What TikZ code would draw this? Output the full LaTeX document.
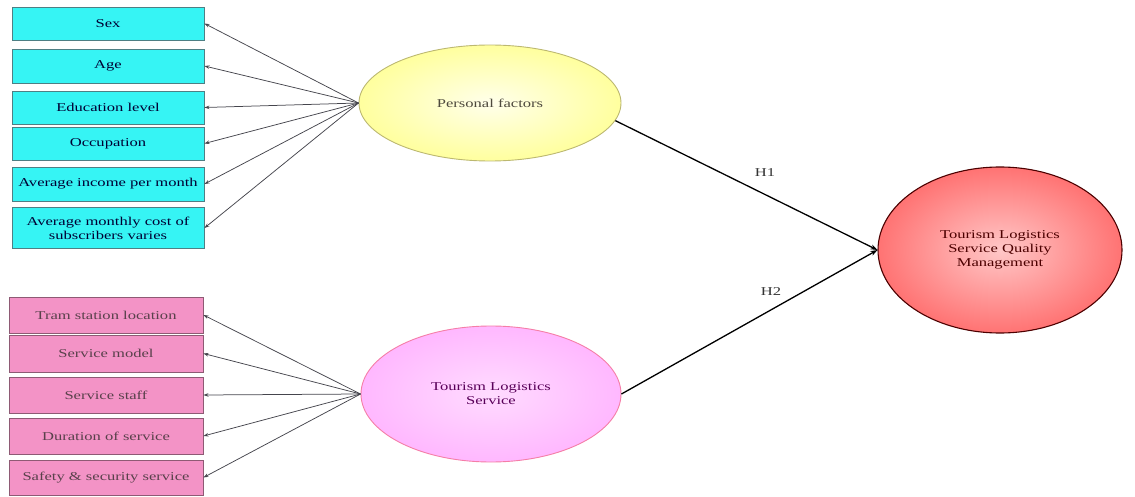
\documentclass[tikz,border=0pt]{standalone}
\usepackage{fontspec}
\setmainfont{Liberation Serif}[FakeStretch=1.38]
\usetikzlibrary{shapes.geometric,arrows.meta}
\definecolor{cyanfill}{HTML}{36F4F4}
\definecolor{cyanedge}{HTML}{4E7F84}
\definecolor{pinkfill}{HTML}{F393C6}
\definecolor{pinkedge}{HTML}{8E5A74}
\definecolor{linkgray}{HTML}{45454D}
\tikzset{
  factor/.style={draw=cyanedge, fill=cyanfill, line width=0.9pt, rectangle,
    minimum width=192pt, inner sep=1pt, align=center, text=black!80!blue,
    font=\fontsize{12}{14}\selectfont},
  servbox/.style={draw=pinkedge, fill=pinkfill, line width=0.9pt, rectangle,
    minimum width=194pt, inner sep=1pt, align=center, text=black!75!magenta,
    font=\fontsize{12}{14}\selectfont},
  latent/.style={ellipse, inner sep=0pt, align=center, line width=0.9pt,
    font=\fontsize{12}{14}\selectfont},
  indicator/.style={draw=linkgray, line width=0.75pt, -{Stealth[length=5pt,width=3.5pt]}},
  path/.style={draw=black, line width=1.3pt, -{Stealth[length=7pt,width=5pt]}},
  hyp/.style={font=\fontsize{12}{14}\selectfont, text=black!80}
}
\begin{document}
\begin{tikzpicture}[x=1pt,y=-1pt]
\useasboundingbox (0,0) rectangle (1135,497);

% Personal factor indicators
\node[factor, minimum height=33pt] (sex) at (108,23.5) {Sex};
\node[factor, minimum height=34pt] (age) at (108,66) {Age};
\node[factor, minimum height=33pt] (edu) at (108,107.5) {Education level};
\node[factor, minimum height=33pt] (occ) at (108,143.5) {Occupation};
\node[factor, minimum height=34pt] (inc) at (108,184) {Average income per month};
\node[factor, minimum height=41pt] (cost) at (108,228) {Average monthly cost of\\subscribers varies};

% Service indicators
\node[servbox, minimum height=36pt] (tram) at (106,315) {Tram station location};
\node[servbox, minimum height=37pt] (model) at (106,353.5) {Service model};
\node[servbox, minimum height=36pt] (staff) at (106,395) {Service staff};
\node[servbox, minimum height=36pt] (dur) at (106,436) {Duration of service};
\node[servbox, minimum height=35pt] (safe) at (106,477.5) {Safety \& security service};

% Latent constructs
\node[latent, draw=yellow!40!gray, shading=radial, inner color=yellow!8, outer color=yellow!38,
  minimum width=262pt, minimum height=116pt, text=black!80!yellow] (pf) at (490,103) {Personal factors};
\node[latent, draw=magenta!35!pink, shading=radial, inner color=magenta!14, outer color=magenta!28,
  minimum width=260pt, minimum height=136pt, text=violet!70!black] (ts) at (491,394) {Tourism Logistics\\Service};
\node[latent, draw=black!70!red, shading=radial, inner color=red!22, outer color=red!55,
  minimum width=244pt, minimum height=166pt, text=black!70!red, line width=1.1pt] (q) at (1000,250)
  {Tourism Logistics\\Service Quality\\Management};

% Indicator links
\foreach \b in {sex,age,edu,occ,inc,cost}
  \draw[indicator] (pf.west) -- (\b.east);
\foreach \b in {tram,model,staff,dur,safe}
  \draw[indicator] (ts.west) -- (\b.east);

% Hypothesised paths
\draw[path] (pf.-8) -- (q.west);
\draw[path] (ts.east) -- (q.west);
\node[hyp] (h1) at (765,173) {H1};
\node[hyp] (h2) at (771,292) {H2};
\end{tikzpicture}
\end{document}
